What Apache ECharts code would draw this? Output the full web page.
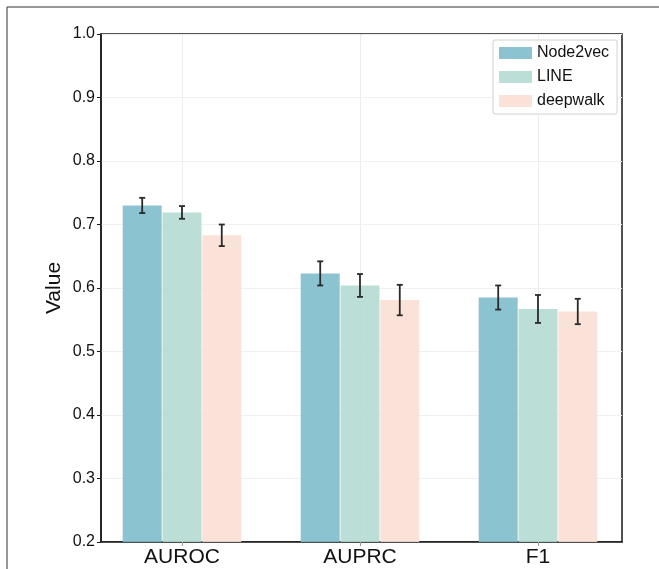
<!DOCTYPE html>
<html>
    <head>
        <meta charset="utf-8" />
        <script src="https://cdnjs.cloudflare.com/ajax/libs/echarts/6.0.0/echarts.min.js"></script>
    </head>
    <body style="margin: 0; background: #fff">
        <div id="main" style="width: 659px; height: 569px"></div>
        <script type="text/javascript">
            // data
            var metrics = ["AUROC", "AUPRC", "F1"];
            var models = ["Node2vec", "LINE", "deepwalk"];
            var node2vecMean = [0.730, 0.623, 0.585];
            var node2vecErr = [0.012, 0.019, 0.019];
            var lineMean = [0.719, 0.604, 0.567];
            var lineErr = [0.010, 0.018, 0.022];
            var deepwalkMean = [0.683, 0.581, 0.563];
            var deepwalkErr = [0.017, 0.024, 0.020];
            var yTicks = [0.2, 0.3, 0.4, 0.5, 0.6, 0.7, 0.8, 0.9, 1.0];

            var means = [node2vecMean, lineMean, deepwalkMean];
            var errs = [node2vecErr, lineErr, deepwalkErr];
            var colors = ["#7ebecb", "#b4dbd1", "#f9dfd4"];
            var barWidth = 39;
            var barGap = 0.02;
            var step = barWidth * (1 + barGap);

            var myChart = echarts.init(document.getElementById("main"));

            var series = [];
            models.forEach(function (name, s) {
                series.push({
                    name: name,
                    type: "bar",
                    barWidth: barWidth,
                    barGap: "2%",
                    itemStyle: { color: colors[s], opacity: 0.9 },
                    data: means[s].map(function (v, i) {
                        return [i, v];
                    }),
                });
            });
            // error bars
            models.forEach(function (name, s) {
                series.push({
                    type: "custom",
                    z: 5,
                    silent: true,
                    data: means[s].map(function (v, i) {
                        return [i, v, errs[s][i]];
                    }),
                    renderItem: function (params, api) {
                        var m = api.value(1), e = api.value(2);
                        var top = api.coord([api.value(0), m + e]);
                        var bot = api.coord([api.value(0), m - e]);
                        var x = top[0] + (s - 1) * step;
                        var st = { stroke: "#2a2a2a", lineWidth: 1.8 };
                        return {
                            type: "group",
                            children: [
                                { type: "line", shape: { x1: x, y1: top[1], x2: x, y2: bot[1] }, style: st },
                                { type: "line", shape: { x1: x - 3, y1: top[1], x2: x + 3, y2: top[1] }, style: st },
                                { type: "line", shape: { x1: x - 3, y1: bot[1], x2: x + 3, y2: bot[1] }, style: st },
                            ],
                        };
                    },
                });
            });

            myChart.setOption({
                animation: false,
                textStyle: { fontFamily: "Liberation Sans, Arial, sans-serif" },
                grid: {
                    left: 101,
                    right: 37,
                    top: 34,
                    bottom: 27,
                    show: true,
                    borderColor: "#1a1a1a",
                    borderWidth: 1.5,
                },
                legend: {
                    data: models,
                    orient: "vertical",
                    left: 493,
                    top: 40,
                    icon: "rect",
                    itemWidth: 33,
                    itemHeight: 12,
                    itemGap: 8,
                    padding: [5, 8, 5, 6],
                    borderColor: "#d0d0d0",
                    borderWidth: 1,
                    borderRadius: 2,
                    backgroundColor: "#fff",
                    textStyle: { fontSize: 16, color: "#111" },
                },
                xAxis: {
                    type: "value",
                    min: -0.455,
                    max: 2.472,
                    axisLine: { onZero: false, lineStyle: { color: "#1a1a1a", width: 1.5 } },
                    axisTick: {
                        show: true,
                        customValues: [0, 1, 2],
                        length: 4,
                        lineStyle: { color: "#999" },
                    },
                    axisLabel: {
                        customValues: [0, 1, 2],
                        formatter: function (v) {
                            return metrics[Math.round(v)];
                        },
                        fontSize: 21,
                        color: "#111",
                        margin: 5,
                    },
                    splitLine: { show: true, lineStyle: { color: "#ececec" } },
                },
                yAxis: {
                    type: "value",
                    min: yTicks[0],
                    max: yTicks[yTicks.length - 1],
                    interval: 0.1,
                    name: "Value",
                    nameLocation: "middle",
                    nameGap: 36,
                    nameMoveOverlap: false,
                    nameTextStyle: { fontSize: 21, color: "#111" },
                    axisLine: { show: true, onZero: false, lineStyle: { color: "#1a1a1a", width: 1.5 } },
                    axisTick: { show: true, length: 4, lineStyle: { color: "#1a1a1a" } },
                    axisLabel: {
                        fontSize: 16,
                        color: "#111",
                        margin: 6,
                        formatter: function (v) {
                            return v.toFixed(1);
                        },
                    },
                    splitLine: { show: true, lineStyle: { color: "#f0f0f0" } },
                },
                graphic: [
                    { type: "line", shape: { x1: 7, y1: 7, x2: 659, y2: 7 }, style: { stroke: "#333", lineWidth: 1 } },
                    { type: "line", shape: { x1: 7, y1: 7, x2: 7, y2: 569 }, style: { stroke: "#333", lineWidth: 1 } },
                ],
                series: series,
            });
        </script>
    </body>
</html>
